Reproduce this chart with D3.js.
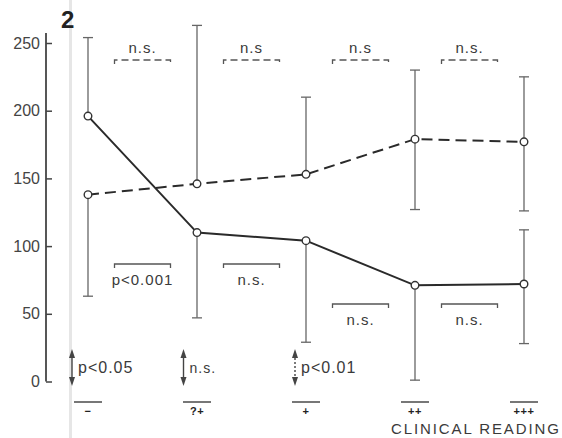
<!DOCTYPE html>
<html>
<head>
<meta charset="utf-8">
<script src="https://cdn.jsdelivr.net/npm/d3@7"></script>
<style>
  body { margin: 0; background: #fff; }
  svg { display: block; font-family: "Liberation Sans", Arial, sans-serif; }
  .txt { fill: #3a3a3a; }
</style>
</head>
<body>
<div id="chart"></div>
<script>
// clinical reading groups
var categories = ["\u2212", "?+", "+", "++", "+++"];

// solid line series (mean, bar ends; null = no bar drawn)
var solidMean  = [196, 110, 104, 71, 72];
var solidUpper = [254, null, null, null, 112];
var solidLower = [null, 47, 29, 1, 28];

// dashed line series
var dashedMean  = [138, 146, 153, 179, 177];
var dashedUpper = [null, 263, 210, 230, 225];
var dashedLower = [63, null, null, 127, 126];

var yTicks = [0, 50, 100, 150, 200, 250];

// comparisons between neighbouring groups
var dashedTests = ["n.s.", "n.s", "n.s", "n.s."];
var solidTests  = ["p<0.001", "n.s.", "n.s.", "n.s."];
// comparisons between the two series in a group
var groupTests  = ["p<0.05", "n.s.", "p<0.01"];

var W = 562, H = 438;

var svg = d3.select("#chart").append("svg")
  .attr("width", W)
  .attr("height", H);

var x = d3.scalePoint().domain(categories).range([88, 524]);
var y = d3.scaleLinear().domain([0, 250]).range([381.5, 43]);

// faint fold line of the scan
svg.append("line")
  .attr("x1", 70.5).attr("x2", 70.5).attr("y1", 0).attr("y2", H)
  .attr("stroke", "#e6e6e6").attr("stroke-width", 3);

// panel number
svg.append("text").attr("class", "txt")
  .attr("x", 61).attr("y", 28)
  .attr("font-size", 24).attr("font-weight", "bold")
  .style("fill", "#222")
  .text("2");

// y axis
var yAxis = svg.append("g")
  .attr("transform", "translate(46,0)")
  .call(d3.axisLeft(y).tickValues(yTicks).tickSizeInner(-6).tickSizeOuter(0).tickPadding(6));
yAxis.select(".domain").remove();
yAxis.selectAll(".tick line").attr("stroke", "#444").attr("stroke-width", 1.5);
yAxis.selectAll(".tick text")
  .attr("font-size", 16).attr("font-family", "Liberation Sans, Arial, sans-serif")
  .style("fill", "#444");
yAxis.append("line")
  .attr("x1", 0).attr("x2", 0).attr("y1", 33).attr("y2", y(0))
  .attr("stroke", "#444").attr("stroke-width", 1.8);

// error bars
function bars(mean, ends) {
  var rows = [];
  categories.forEach(function (c, i) {
    if (ends[i] != null) rows.push({ c: c, m: mean[i], e: ends[i] });
  });
  var g = svg.append("g").attr("stroke", "#666").attr("stroke-width", 1.3);
  g.selectAll("line.v").data(rows).enter().append("line")
    .attr("x1", function (d) { return x(d.c); })
    .attr("x2", function (d) { return x(d.c); })
    .attr("y1", function (d) { return y(d.m); })
    .attr("y2", function (d) { return y(d.e); });
  g.selectAll("line.cap").data(rows).enter().append("line")
    .attr("x1", function (d) { return x(d.c) - 5; })
    .attr("x2", function (d) { return x(d.c) + 5; })
    .attr("y1", function (d) { return y(d.e); })
    .attr("y2", function (d) { return y(d.e); });
}
bars(solidMean, solidUpper);
bars(solidMean, solidLower);
bars(dashedMean, dashedUpper);
bars(dashedMean, dashedLower);

var line = d3.line()
  .x(function (d) { return x(d.c); })
  .y(function (d) { return y(d.v); });

function series(mean, dash) {
  var pts = categories.map(function (c, i) { return { c: c, v: mean[i] }; });
  svg.append("path").datum(pts)
    .attr("d", line)
    .attr("fill", "none")
    .attr("stroke", "#2a2a2a")
    .attr("stroke-width", 2)
    .attr("stroke-dasharray", dash);
  svg.selectAll(null).data(pts).enter().append("circle")
    .attr("cx", function (d) { return x(d.c); })
    .attr("cy", function (d) { return y(d.v); })
    .attr("r", 3.8)
    .attr("fill", "#fff")
    .attr("stroke", "#333")
    .attr("stroke-width", 1.4);
}
series(dashedMean, "11,6");
series(solidMean, null);

// brackets between neighbouring groups
function bracket(i, yy, dash, label, textY) {
  var mid = (x(categories[i]) + x(categories[i + 1])) / 2;
  svg.append("path")
    .attr("d", "M" + (mid - 28) + "," + (yy + 4) + "V" + yy + "H" + (mid + 28) + "V" + (yy + 4))
    .attr("fill", "none")
    .attr("stroke", "#555")
    .attr("stroke-width", 1.3)
    .attr("stroke-dasharray", dash);
  svg.append("text").attr("class", "txt")
    .attr("x", mid).attr("y", textY)
    .attr("text-anchor", "middle")
    .attr("font-size", 15)
    .attr("letter-spacing", 1)
    .text(label);
}
dashedTests.forEach(function (t, i) { bracket(i, 60, "7,4", t, 53); });
solidTests.forEach(function (t, i) {
  var yy = i < 2 ? 264 : 304;
  bracket(i, yy, null, t, yy + 21);
});

// double arrows with series comparison
groupTests.forEach(function (t, i) {
  var cx = x(categories[i]) - 16 + i * 2.5;
  var g = svg.append("g");
  g.append("line")
    .attr("x1", cx).attr("x2", cx).attr("y1", 354).attr("y2", 381)
    .attr("stroke", "#444").attr("stroke-width", 1.4)
    .attr("stroke-dasharray", i === 2 ? "2,2" : null);
  g.append("path")
    .attr("d", "M" + cx + ",349L" + (cx - 3) + ",358L" + (cx + 3) + ",358Z")
    .attr("fill", "#444");
  g.append("path")
    .attr("d", "M" + cx + ",386L" + (cx - 3) + ",377L" + (cx + 3) + ",377Z")
    .attr("fill", "#444");
  g.append("text").attr("class", "txt")
    .attr("x", cx + 6).attr("y", 373)
    .attr("font-size", i === 1 ? 14 : 16)
    .attr("letter-spacing", 1)
    .text(t);
});

// category labels
var cat = svg.append("g");
cat.selectAll("line").data(categories).enter().append("line")
  .attr("x1", function (d) { return x(d) - 14; })
  .attr("x2", function (d) { return x(d) + 14; })
  .attr("y1", 402).attr("y2", 402)
  .attr("stroke", "#777").attr("stroke-width", 2);
cat.selectAll("text").data(categories).enter().append("text")
  .attr("x", function (d) { return x(d); })
  .attr("y", 415)
  .attr("text-anchor", "middle")
  .attr("font-size", 11)
  .attr("font-weight", "bold")
  .attr("letter-spacing", 0.5)
  .style("fill", "#222")
  .text(function (d) { return d; });

svg.append("text").attr("class", "txt")
  .attr("x", 391).attr("y", 434)
  .attr("font-size", 15)
  .attr("letter-spacing", 1.9)
  .text("CLINICAL READING");
</script>
</body>
</html>
